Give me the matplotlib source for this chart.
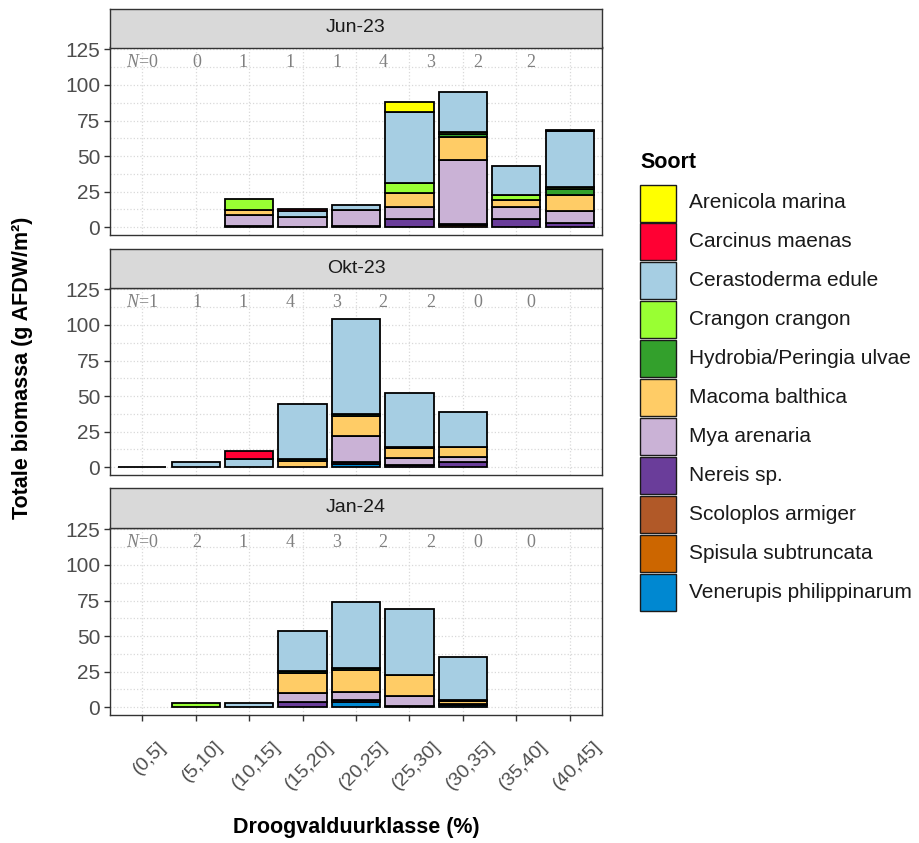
import matplotlib.pyplot as plt
from matplotlib.patches import Rectangle
from matplotlib.transforms import ScaledTranslation
import numpy as np

plt.rcParams['font.family'] = ['Liberation Sans', 'DejaVu Sans']
plt.rcParams['mathtext.fontset'] = 'custom'
plt.rcParams['mathtext.rm'] = 'Liberation Serif'
plt.rcParams['mathtext.it'] = 'Liberation Serif:italic'

classes = ['(0,5]', '(5,10]', '(10,15]', '(15,20]', '(20,25]',
           '(25,30]', '(30,35]', '(35,40]', '(40,45]']
months = ['Jun-23', 'Okt-23', 'Jan-24']

species = ['Arenicola marina', 'Carcinus maenas', 'Cerastoderma edule',
           'Crangon crangon', 'Hydrobia/Peringia ulvae', 'Macoma balthica',
           'Mya arenaria', 'Nereis sp.', 'Scoloplos armiger',
           'Spisula subtruncata', 'Venerupis philippinarum']
colors = ['#FFFF00', '#FF0033', '#A6CEE3', '#99FF33', '#33A02C', '#FFCC66',
          '#CAB2D6', '#6A3D9A', '#B15928', '#CC6600', '#0088D1']

# biomass per droogvalduurklasse (g AFDW/m2)
jun23 = {
    'Arenicola marina':        [0, 0, 0, 0, 0, 7.5, 0, 0, 0],
    'Carcinus maenas':         [0, 0, 0, 1.0, 0, 0, 0, 0, 1.0],
    'Cerastoderma edule':      [0, 0, 0, 4.5, 3.3, 49.9, 28.5, 20.6, 38.9],
    'Crangon crangon':         [0, 0, 7.5, 0, 0, 7.0, 1.0, 3.7, 1.2],
    'Hydrobia/Peringia ulvae': [0, 0, 0, 0, 0, 0, 2.3, 0, 4.7],
    'Macoma balthica':         [0, 0, 3.5, 0, 0, 9.8, 16.4, 4.7, 10.8],
    'Mya arenaria':            [0, 0, 7.7, 7.2, 11.2, 8.2, 44.5, 8.2, 8.4],
    'Nereis sp.':              [0, 0, 1.0, 0, 1.0, 5.9, 1.0, 5.9, 3.3],
    'Spisula subtruncata':     [0, 0, 0, 0, 0, 0, 1.5, 0, 0],
}
okt23 = {
    'Carcinus maenas':         [0, 0, 5.2, 0, 0, 0, 0, 0, 0],
    'Cerastoderma edule':      [0.3, 4.0, 6.1, 38.4, 66.5, 37.9, 24.4, 0, 0],
    'Hydrobia/Peringia ulvae': [0, 0, 0, 1.0, 1.2, 1.2, 0, 0, 0],
    'Macoma balthica':         [0, 0, 0, 4.7, 14.0, 6.6, 7.3, 0, 0],
    'Mya arenaria':            [0, 0, 0, 0, 18.7, 5.2, 3.0, 0, 0],
    'Nereis sp.':              [0, 0, 0, 0, 1.5, 1.5, 4.0, 0, 0],
    'Venerupis philippinarum': [0, 0, 0, 0, 2.0, 0, 0, 0, 0],
}
jan24 = {
    'Cerastoderma edule':      [0, 0, 3.0, 28.1, 47.0, 46.4, 30.5, 0, 0],
    'Crangon crangon':         [0, 3.0, 0, 0, 0, 0, 0, 0, 0],
    'Hydrobia/Peringia ulvae': [0, 0, 0, 1.2, 1.2, 0, 0.6, 0, 0],
    'Macoma balthica':         [0, 0, 0, 14.1, 15.2, 14.5, 1.8, 0, 0],
    'Mya arenaria':            [0, 0, 0, 6.3, 5.9, 7.0, 0, 0, 0],
    'Nereis sp.':              [0, 0, 0, 3.7, 1.5, 1.2, 0.6, 0, 0],
    'Venerupis philippinarum': [0, 0, 0, 0, 3.5, 0, 1.8, 0, 0],
}

n_jun23 = [0, 0, 1, 1, 1, 4, 3, 2, 2]
n_okt23 = [1, 1, 1, 4, 3, 2, 2, 0, 0]
n_jan24 = [0, 2, 1, 4, 3, 2, 2, 0, 0]
n_label_pos = [1.0, 2.02, 2.88, 3.76, 4.64, 5.5, 6.4, 7.28, 8.27]

W, H = 920, 843
fig = plt.figure(figsize=(W / 100, H / 100), dpi=100)


def fx(px):
    return px / W


def fy(py):
    return 1 - py / H


px_left, px_right = 110, 602
panel_tops = [47.5, 287.5, 527.5]
panel_h = 187
strip_h = 39
x = np.arange(1, len(classes) + 1)

for i, (month, data, nvals) in enumerate(zip(months, [jun23, okt23, jan24],
                                             [n_jun23, n_okt23, n_jan24])):
    top = panel_tops[i]
    ax = fig.add_axes([fx(px_left), fy(top + panel_h),
                       fx(px_right) - fx(px_left), panel_h / H])
    bottom = np.zeros(len(classes))
    for sp, col in reversed(list(zip(species, colors))):
        vals = np.array(data.get(sp, [0] * len(classes)), dtype=float)
        mask = vals > 0
        if mask.any():
            ax.bar(x[mask], vals[mask], bottom=bottom[mask], width=0.9,
                   color=col, edgecolor='black', linewidth=1.3, zorder=3)
        bottom += vals

    for j, (pos, n) in enumerate(zip(n_label_pos, nvals)):
        txt = r'$N$=' + str(n) if j == 0 else str(n)
        ax.text(pos, 116, txt, ha='center', va='center', fontsize=13,
                color='#808080', fontfamily='Liberation Serif', zorder=4)

    ax.set_xlim(0.4, 9.6)
    ax.set_ylim(-5.1, 126.3)
    ax.set_yticks([0, 25, 50, 75, 100, 125])
    ax.set_yticks([12.5, 37.5, 62.5, 87.5, 112.5], minor=True)
    ax.set_xticks(x)
    ax.grid(which='both', color='#D9D9D9', linestyle=':', linewidth=0.9)
    ax.set_axisbelow(True)
    ax.tick_params(axis='y', which='minor', length=0)
    ax.tick_params(axis='y', which='major', length=4, width=1, color='#333333',
                   labelsize=15, labelcolor='#4D4D4D', pad=3)
    for s in ax.spines.values():
        s.set_color('#333333')
        s.set_linewidth(1.0)

    if i == len(months) - 1:
        ax.set_xticklabels(classes, rotation=45, ha='center', va='top')
        ax.tick_params(axis='x', length=4, width=1, color='#333333',
                       labelsize=14, labelcolor='#4D4D4D', pad=13)
        for lab in ax.get_xticklabels():
            lab.set_transform(lab.get_transform() +
                              ScaledTranslation(0.07, 0, fig.dpi_scale_trans))
    else:
        ax.tick_params(axis='x', length=0, labelbottom=False)

    sax = fig.add_axes([fx(px_left), fy(top), fx(px_right) - fx(px_left), strip_h / H])
    sax.set_facecolor('#D9D9D9')
    sax.set_xticks([])
    sax.set_yticks([])
    for s in sax.spines.values():
        s.set_color('#333333')
        s.set_linewidth(1.0)
    sax.text(0.5, 0.5, month, transform=sax.transAxes, ha='center',
             va='center', fontsize=14, color='#1A1A1A')

# overlay in pixel coordinates for titles and legend
ov = fig.add_axes([0, 0, 1, 1], facecolor='none')
ov.set_xlim(0, W)
ov.set_ylim(H, 0)
ov.axis('off')

ov.text(23, 368, 'Totale biomassa (g AFDW/m²)', rotation=90, ha='center',
        va='center', fontsize=15.5, fontweight='bold')
ov.text(356, 828, 'Droogvalduurklasse (%)', ha='center', va='center',
        fontsize=15.5, fontweight='bold')

ov.text(640, 162, 'Soort', ha='left', va='center', fontsize=15.5, fontweight='bold')
key_top, key_step = 184.5, 38.9
for k, (sp, col) in enumerate(zip(species, colors)):
    y0 = key_top + k * key_step
    ov.add_patch(Rectangle((640, y0), 36, 37, facecolor=col,
                           edgecolor='#1A1A1A', linewidth=1.0))
    ov.text(689, y0 + 18.5, sp, ha='left', va='center', fontsize=15,
            color='#1A1A1A')

fig.savefig('out.png', dpi=100)
